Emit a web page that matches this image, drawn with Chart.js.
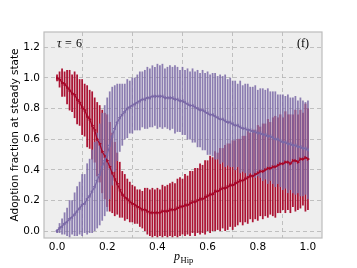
<!DOCTYPE html>
<html>
<head>
<meta charset="utf-8">
<script src="https://cdn.jsdelivr.net/npm/chart.js@4"></script>
<style>
  html, body { margin: 0; padding: 0; background: #fff; }
  canvas { display: block; }
</style>
</head>
<body>
<canvas id="chart" width="357" height="268"></canvas>
<script>
// p_Hip values (x categories)
const pHip = [
  0.00, 0.01, 0.02, 0.03, 0.04, 0.05, 0.06, 0.07, 0.08, 0.09,
  0.10, 0.11, 0.12, 0.13, 0.14, 0.15, 0.16, 0.17, 0.18, 0.19,
  0.20, 0.21, 0.22, 0.23, 0.24, 0.25, 0.26, 0.27, 0.28, 0.29,
  0.30, 0.31, 0.32, 0.33, 0.34, 0.35, 0.36, 0.37, 0.38, 0.39,
  0.40, 0.41, 0.42, 0.43, 0.44, 0.45, 0.46, 0.47, 0.48, 0.49,
  0.50, 0.51, 0.52, 0.53, 0.54, 0.55, 0.56, 0.57, 0.58, 0.59,
  0.60, 0.61, 0.62, 0.63, 0.64, 0.65, 0.66, 0.67, 0.68, 0.69,
  0.70, 0.71, 0.72, 0.73, 0.74, 0.75, 0.76, 0.77, 0.78, 0.79,
  0.80, 0.81, 0.82, 0.83, 0.84, 0.85, 0.86, 0.87, 0.88, 0.89,
  0.90, 0.91, 0.92, 0.93, 0.94, 0.95, 0.96, 0.97, 0.98, 0.99,
  1.00
];

// red series: mean and std
const redMean = [
  1.00, 0.99, 0.97, 0.96, 0.94, 0.92, 0.90, 0.89, 0.86, 0.84,
  0.81, 0.79, 0.75, 0.73, 0.69, 0.66, 0.60, 0.57, 0.52, 0.49,
  0.46, 0.42, 0.38, 0.34, 0.31, 0.27, 0.24, 0.22, 0.21, 0.19,
  0.18, 0.17, 0.16, 0.15, 0.14, 0.14, 0.13, 0.12, 0.12, 0.12,
  0.12, 0.12, 0.13, 0.13, 0.13, 0.14, 0.14, 0.14, 0.15, 0.16,
  0.16, 0.17, 0.17, 0.18, 0.19, 0.19, 0.20, 0.21, 0.21, 0.22,
  0.23, 0.24, 0.24, 0.26, 0.26, 0.27, 0.28, 0.28, 0.29, 0.30,
  0.30, 0.31, 0.32, 0.33, 0.33, 0.34, 0.35, 0.36, 0.36, 0.37,
  0.38, 0.39, 0.39, 0.40, 0.41, 0.41, 0.42, 0.42, 0.43, 0.44,
  0.44, 0.45, 0.45, 0.44, 0.46, 0.46, 0.45, 0.47, 0.47, 0.48,
  0.47
];
const redStd = [
  0.02, 0.05, 0.09, 0.08, 0.11, 0.13, 0.12, 0.15, 0.16, 0.15,
  0.18, 0.17, 0.20, 0.19, 0.22, 0.21, 0.24, 0.25, 0.27, 0.28,
  0.30, 0.29, 0.26, 0.24, 0.20, 0.18, 0.15, 0.15, 0.13, 0.13,
  0.12, 0.12, 0.11, 0.12, 0.12, 0.14, 0.15, 0.15, 0.16, 0.15,
  0.16, 0.15, 0.17, 0.16, 0.17, 0.17, 0.18, 0.17, 0.19, 0.19,
  0.18, 0.20, 0.19, 0.21, 0.20, 0.22, 0.21, 0.23, 0.22, 0.24,
  0.23, 0.25, 0.24, 0.26, 0.25, 0.27, 0.26, 0.28, 0.28, 0.27,
  0.29, 0.28, 0.28, 0.27, 0.29, 0.28, 0.30, 0.28, 0.30, 0.29,
  0.31, 0.29, 0.31, 0.30, 0.32, 0.30, 0.32, 0.33, 0.31, 0.32,
  0.30, 0.33, 0.31, 0.32, 0.30, 0.33, 0.31, 0.32, 0.30, 0.35,
  0.33
];

// purple series: mean and std
const purpleMean = [
  0.00, 0.02, 0.03, 0.05, 0.06, 0.08, 0.09, 0.11, 0.13, 0.15,
  0.17, 0.18, 0.21, 0.23, 0.26, 0.29, 0.33, 0.37, 0.42, 0.46,
  0.50, 0.56, 0.62, 0.67, 0.71, 0.74, 0.76, 0.78, 0.80, 0.81,
  0.82, 0.83, 0.84, 0.85, 0.86, 0.86, 0.87, 0.87, 0.88, 0.88,
  0.88, 0.88, 0.88, 0.87, 0.87, 0.87, 0.87, 0.86, 0.86, 0.85,
  0.85, 0.84, 0.83, 0.82, 0.82, 0.81, 0.80, 0.79, 0.79, 0.78,
  0.77, 0.76, 0.76, 0.75, 0.74, 0.73, 0.73, 0.72, 0.71, 0.71,
  0.70, 0.69, 0.69, 0.68, 0.67, 0.67, 0.66, 0.66, 0.65, 0.65,
  0.64, 0.64, 0.63, 0.63, 0.62, 0.62, 0.61, 0.60, 0.60, 0.59,
  0.58, 0.58, 0.57, 0.57, 0.56, 0.56, 0.55, 0.55, 0.54, 0.54,
  0.53
];
const purpleStd = [
  0.01, 0.03, 0.05, 0.07, 0.09, 0.12, 0.11, 0.14, 0.16, 0.17,
  0.20, 0.19, 0.23, 0.24, 0.27, 0.29, 0.31, 0.33, 0.35, 0.36,
  0.37, 0.35, 0.32, 0.28, 0.25, 0.22, 0.20, 0.18, 0.19, 0.17,
  0.18, 0.17, 0.18, 0.19, 0.18, 0.19, 0.20, 0.19, 0.20, 0.19,
  0.21, 0.20, 0.21, 0.19, 0.20, 0.21, 0.20, 0.22, 0.21, 0.20,
  0.22, 0.21, 0.23, 0.22, 0.24, 0.23, 0.25, 0.24, 0.26, 0.25,
  0.27, 0.26, 0.27, 0.28, 0.27, 0.29, 0.28, 0.30, 0.28, 0.29,
  0.28, 0.29, 0.27, 0.30, 0.28, 0.29, 0.30, 0.28, 0.29, 0.30,
  0.28, 0.29, 0.30, 0.29, 0.31, 0.29, 0.30, 0.31, 0.29, 0.30,
  0.31, 0.30, 0.32, 0.30, 0.31, 0.32, 0.30, 0.32, 0.31, 0.30,
  0.32
];

const xTicks = [0.0, 0.2, 0.4, 0.6, 0.8, 1.0];
const yTicks = [0.0, 0.2, 0.4, 0.6, 0.8, 1.0, 1.2];

const RED = '#A60628';
const PURPLE = '#7A68A6';
const tickFont = { family: 'DejaVu Sans', size: 10.5 };

function errBars(mean, std) {
  return pHip.map((p, i) => ({ x: p, y: [mean[i] - std[i], mean[i] + std[i]] }));
}
function meanPts(mean) {
  return pHip.map((p, i) => ({ x: p, y: mean[i] }));
}

const frame = {
  id: 'frame',
  beforeDraw(chart) {
    const { ctx, chartArea: a } = chart;
    ctx.save();
    ctx.fillStyle = '#fff';
    ctx.fillRect(0, 0, chart.width, chart.height);
    ctx.fillStyle = '#eeeeee';
    ctx.fillRect(a.left, a.top, a.right - a.left, a.bottom - a.top);
    ctx.restore();
  },
  afterDraw(chart) {
    const { ctx, chartArea: a } = chart;
    ctx.save();
    ctx.strokeStyle = '#bcbcbc';
    ctx.lineWidth = 1.2;
    ctx.strokeRect(a.left, a.top, a.right - a.left, a.bottom - a.top);

    ctx.fillStyle = '#000';
    ctx.textBaseline = 'middle';
    ctx.font = 'italic 12px "Liberation Serif"';
    ctx.textAlign = 'left';
    ctx.fillText('\u03C4', 57, 44);
    ctx.font = '12px "Liberation Serif"';
    ctx.fillText('=', 65, 44);
    ctx.fillText('6', 76, 44);
    ctx.textAlign = 'right';
    ctx.fillText('(f)', 309, 44);

    // x axis title: p_Hip
    ctx.textAlign = 'left';
    ctx.font = 'italic 12px "Liberation Serif"';
    ctx.fillText('p', 174, 257);
    ctx.font = '8.5px "Liberation Serif"';
    ctx.fillText('Hip', 180.5, 260.5);
    ctx.restore();
  }
};

new Chart(document.getElementById('chart'), {
  type: 'bar',
  data: {
    datasets: [
      {
        type: 'bar', data: errBars(redMean, redStd),
        backgroundColor: 'rgba(166,6,40,0.95)', borderWidth: 0,
        barThickness: 1.1, grouped: false, order: 4, clip: 0
      },
      {
        type: 'bar', data: errBars(purpleMean, purpleStd),
        backgroundColor: 'rgba(122,104,166,0.85)', borderWidth: 0,
        barThickness: 1.1, grouped: false, order: 3, clip: 0
      },
      {
        type: 'line', data: meanPts(redMean),
        borderColor: RED, borderWidth: 1.2, backgroundColor: RED,
        pointStyle: 'triangle', rotation: 90, pointRadius: 2.1,
        pointBorderWidth: 0, pointBackgroundColor: RED, order: 2, clip: 0
      },
      {
        type: 'line', data: meanPts(purpleMean),
        borderColor: PURPLE, borderWidth: 1.2, backgroundColor: PURPLE,
        pointStyle: 'triangle', rotation: -90, pointRadius: 2.1,
        pointBorderWidth: 0, pointBackgroundColor: PURPLE, order: 1, clip: 0
      }
    ]
  },
  options: {
    responsive: false,
    animation: false,
    devicePixelRatio: 1,
    layout: { padding: { top: 32, right: 35, bottom: 0, left: 0 } },
    plugins: { legend: { display: false }, tooltip: { enabled: false } },
    scales: {
      x: {
        type: 'linear', min: -0.052, max: 1.056, offset: false,
        afterBuildTicks: s => { s.ticks = xTicks.map(v => ({ value: v })); },
        afterFit: s => { s.height = 30; },
        grid: { color: '#b2b2b2', lineWidth: 0.8, drawTicks: false },
        border: { display: false, dash: [4, 3] },
        ticks: { padding: 3, color: '#000', font: tickFont, maxRotation: 0, callback: v => v.toFixed(1) }
      },
      y: {
        type: 'linear', min: -0.045, max: 1.3,
        afterBuildTicks: s => { s.ticks = yTicks.map(v => ({ value: v })); },
        afterFit: s => { s.width = 44; },
        grid: { color: '#b2b2b2', lineWidth: 0.8, drawTicks: false },
        border: { display: false, dash: [4, 3] },
        ticks: { padding: 4, color: '#000', font: tickFont, callback: v => v.toFixed(1) },
        title: {
          display: true, text: 'Adoption fraction at steady state',
          color: '#000', font: { family: 'DejaVu Sans', size: 10.5 },
          padding: { top: 9, bottom: 0 }
        }
      }
    }
  },
  plugins: [frame]
});
</script>
</body>
</html>
